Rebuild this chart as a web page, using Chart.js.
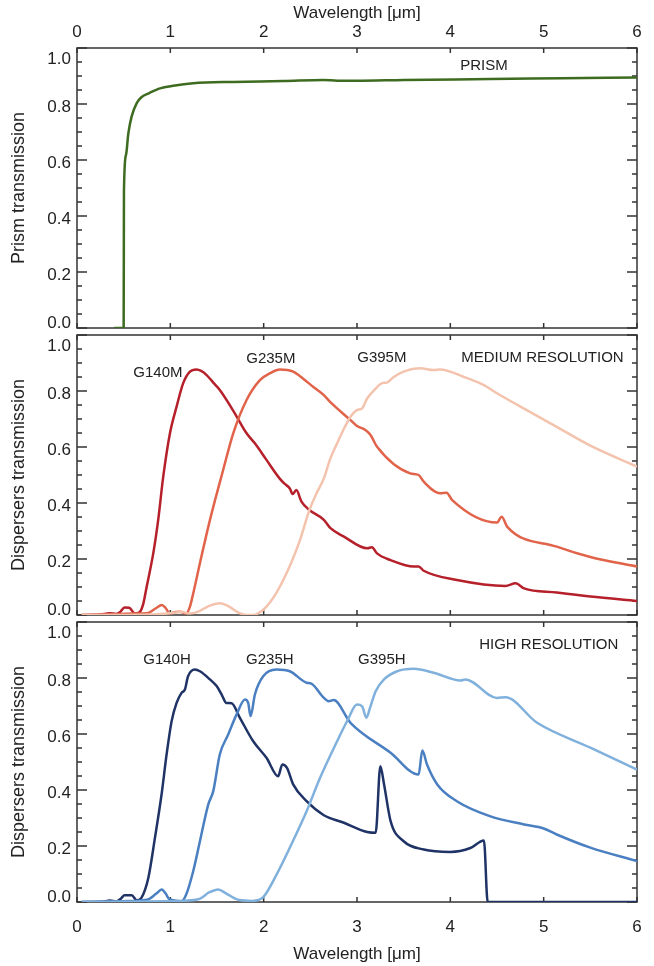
<!DOCTYPE html>
<html>
<head>
<meta charset="utf-8">
<script src="https://cdn.jsdelivr.net/npm/chart.js@4.4.1/dist/chart.umd.min.js"></script>
<style>
  html, body { margin: 0; padding: 0; background: #fff; }
  #wrap { position: relative; width: 654px; height: 966px; }
  canvas { position: absolute; left: 0; }
</style>
</head>
<body>
<div id="wrap">
  <canvas id="prismChart" width="654" height="332" style="top:0"></canvas>
  <canvas id="mediumChart" width="654" height="286" style="top:332px"></canvas>
  <canvas id="highChart" width="654" height="348" style="top:618px"></canvas>
</div>
<script>
// ticks
const xTicks = [0, 1, 2, 3, 4, 5, 6];
const yMinorTicks = [0, 0.05, 0.1, 0.15, 0.2, 0.25, 0.3, 0.35, 0.4, 0.45, 0.5,
  0.55, 0.6, 0.65, 0.7, 0.75, 0.8, 0.85, 0.9, 0.95, 1.0];

// PRISM
const prismWave = [0.40, 0.50, 0.503, 0.525, 0.55, 0.585, 0.64, 0.69, 0.78, 0.89, 1.03, 1.245,
  1.67, 2.21, 2.64, 2.79, 3.0, 3.5, 4.43, 5.2, 6.0];
const prismTrans = [0, 0, 0.487, 0.618, 0.695, 0.755, 0.803, 0.824, 0.84, 0.856, 0.865, 0.874,
  0.879, 0.882, 0.886, 0.883, 0.883, 0.886, 0.889, 0.892, 0.895];

// medium resolution gratings
const g140mWave = [0.05, 0.25, 0.35, 0.42, 0.46, 0.51, 0.56, 0.62, 0.67, 0.71, 0.746, 0.817,
  0.87, 0.924, 0.996, 1.067, 1.138, 1.21, 1.28, 1.33, 1.389, 1.46, 1.53, 1.67, 1.817, 1.906,
  2.03, 2.17, 2.22, 2.28, 2.31, 2.35, 2.405, 2.49, 2.645, 2.716, 2.86, 3.11, 3.16, 3.215,
  3.36, 3.61, 3.66, 3.715, 4.07, 4.59, 4.70, 4.79, 5.14, 5.5, 6.0];
const g140mTrans = [0, 0.002, 0.006, 0.004, 0.01, 0.027, 0.026, 0.005, 0.01, 0.04, 0.10, 0.22,
  0.34, 0.494, 0.649, 0.744, 0.828, 0.869, 0.877, 0.872, 0.857, 0.83, 0.804, 0.732, 0.649, 0.613,
  0.554, 0.488, 0.47, 0.452, 0.432, 0.446, 0.405, 0.375, 0.34, 0.31, 0.28, 0.238, 0.242, 0.22,
  0.196, 0.173, 0.173, 0.158, 0.125, 0.104, 0.113, 0.095, 0.08, 0.066, 0.05];

const g235mWave = [0.05, 0.4, 0.6, 0.75, 0.85, 0.907, 0.95, 0.99, 1.05, 1.10, 1.17, 1.21, 1.245,
  1.317, 1.424, 1.566, 1.674, 1.817, 1.96, 2.066, 2.173, 2.25, 2.316, 2.42, 2.53, 2.645, 2.709,
  2.93, 3.0, 3.09, 3.145, 3.215, 3.57, 3.66, 3.715, 3.89, 3.96, 4.02, 4.5, 4.55, 4.61, 5.14,
  5.5, 6.0];
const g235mTrans = [0, 0.003, 0.005, 0.006, 0.025, 0.036, 0.025, 0.006, 0.01, 0.012, 0.005, 0.03, 0.077,
  0.185, 0.339, 0.518, 0.649, 0.768, 0.839, 0.863, 0.877, 0.875, 0.869, 0.845, 0.815, 0.785, 0.762,
  0.696, 0.675, 0.661, 0.643, 0.601, 0.506, 0.5, 0.476, 0.435, 0.437, 0.41, 0.33, 0.351, 0.315, 0.244,
  0.207, 0.173];

const g395mWave = [0.05, 0.8, 1.05, 1.12, 1.2, 1.3, 1.4, 1.53, 1.63, 1.72, 1.817, 1.89, 1.96,
  2.03, 2.12, 2.21, 2.3, 2.39, 2.49, 2.56, 2.645, 2.709, 2.787, 2.86, 2.93, 3.0, 3.055, 3.11,
  3.19, 3.27, 3.32, 3.39, 3.5, 3.68, 3.82, 3.89, 4.14, 4.36, 4.5, 4.8, 5.14, 5.5, 6.0];
const g395mTrans = [0, 0.002, 0.008, 0.012, 0.005, 0.012, 0.03, 0.042, 0.03, 0.01, 0, 0, 0.01,
  0.03, 0.07, 0.125, 0.19, 0.268, 0.375, 0.43, 0.488, 0.554, 0.613, 0.665, 0.708, 0.732, 0.738, 0.774,
  0.805, 0.828, 0.83, 0.849, 0.869, 0.881, 0.875, 0.877, 0.851, 0.821, 0.792, 0.735, 0.672, 0.605, 0.53];

// high resolution gratings
const g140hWave = [0.05, 0.3, 0.35, 0.42, 0.47, 0.51, 0.586, 0.64, 0.69, 0.764, 0.835, 0.906,
  0.96, 1.014, 1.067, 1.12, 1.156, 1.19, 1.263, 1.317, 1.424, 1.496, 1.55, 1.60, 1.656, 1.745,
  1.888, 2.03, 2.155, 2.20, 2.25, 2.316, 2.46, 2.645, 2.86, 3.11, 3.2, 3.25, 3.29, 3.36, 3.5,
  3.715, 4.0, 4.215, 4.36, 4.40, 6.0];
const g140hTrans = [0, 0.002, 0.005, 0.002, 0.012, 0.024, 0.024, 0.006, 0.015, 0.086, 0.229, 0.384,
  0.527, 0.646, 0.711, 0.747, 0.759, 0.806, 0.83, 0.824, 0.795, 0.771, 0.741, 0.711, 0.71, 0.658,
  0.574, 0.515, 0.449, 0.491, 0.479, 0.42, 0.36, 0.31, 0.283, 0.25, 0.247, 0.485, 0.42, 0.289, 0.217,
  0.1875, 0.179, 0.193, 0.22, 0, 0];

const g235hWave = [0.05, 0.5, 0.75, 0.85, 0.907, 0.95, 0.99, 1.12, 1.17, 1.245, 1.317, 1.406,
  1.46, 1.53, 1.62, 1.71, 1.80, 1.834, 1.86, 1.906, 1.995, 2.138, 2.28, 2.46, 2.51, 2.645, 2.698,
  2.75, 2.93, 3.36, 3.66, 3.70, 3.75, 3.86, 4.07, 4.43, 4.79, 5.0, 5.14, 5.5, 6.0];
const g235hTrans = [0, 0.003, 0.008, 0.03, 0.045, 0.03, 0.01, 0.003, 0.027, 0.11, 0.217, 0.348,
  0.396, 0.527, 0.598, 0.67, 0.723, 0.711, 0.664, 0.741, 0.806, 0.83, 0.824, 0.783, 0.78, 0.729, 0.717,
  0.721, 0.64, 0.533, 0.455, 0.541, 0.491, 0.42, 0.36, 0.306, 0.277, 0.2625, 0.241, 0.194, 0.146];

const g395hWave = [0.05, 1.0, 1.3, 1.42, 1.513, 1.6, 1.74, 1.88, 1.995, 2.138, 2.28, 2.46, 2.6,
  2.787, 2.9, 3.0, 3.055, 3.10, 3.14, 3.20, 3.29, 3.43, 3.61, 3.82, 4.11, 4.16, 4.50, 4.59, 4.93,
  5.5, 6.0];
const g395hTrans = [0, 0.003, 0.01, 0.035, 0.045, 0.03, 0.007, 0.004, 0.017, 0.098, 0.194, 0.324, 0.44,
  0.574, 0.65, 0.705, 0.699, 0.658, 0.694, 0.753, 0.795, 0.824, 0.833, 0.819, 0.791, 0.795, 0.729, 0.731, 0.64,
  0.551, 0.473];

const AXIS_COLOR = "#333";
const TEXT_COLOR = "#222";
Chart.defaults.font.family = "'Liberation Sans', Arial, Helvetica, sans-serif";
Chart.defaults.color = TEXT_COLOR;

function series(xs, ys, color) {
  return {
    data: xs.map((x, i) => ({ x, y: ys[i] })),
    borderColor: color,
    borderWidth: 2.5,
    pointRadius: 0,
    fill: false,
    cubicInterpolationMode: "monotone"
  };
}

// frame box + inward ticks on all four sides
const frameTicks = {
  id: "frameTicks",
  beforeDatasetsDraw(chart) {
    const { ctx, chartArea: a, scales: { x, y } } = chart;
    ctx.save();
    ctx.strokeStyle = AXIS_COLOR;
    ctx.lineWidth = 1.5;
    ctx.strokeRect(a.left, a.top, a.right - a.left, a.bottom - a.top);
    ctx.beginPath();
    yMinorTicks.forEach((v, i) => {
      const py = y.getPixelForValue(v);
      const len = i % 4 === 0 ? 10 : 5;
      ctx.moveTo(a.left, py); ctx.lineTo(a.left + len, py);
      ctx.moveTo(a.right, py); ctx.lineTo(a.right - len, py);
    });
    xTicks.forEach(v => {
      const px = x.getPixelForValue(v);
      ctx.moveTo(px, a.top); ctx.lineTo(px, a.top + 5);
      ctx.moveTo(px, a.bottom); ctx.lineTo(px, a.bottom - 5);
    });
    ctx.stroke();
    ctx.restore();
  }
};

// text labels placed in data coordinates
const notes = {
  id: "notes",
  afterDatasetsDraw(chart, args, opts) {
    const { ctx, scales: { x, y } } = chart;
    ctx.save();
    ctx.fillStyle = TEXT_COLOR;
    ctx.font = "15px " + Chart.defaults.font.family;
    ctx.textBaseline = "middle";
    (opts.items || []).forEach(n => {
      ctx.textAlign = n.align || "center";
      ctx.fillText(n.text, x.getPixelForValue(n.x), y.getPixelForValue(n.y));
    });
    ctx.restore();
  }
};

function yAxis(title) {
  return {
    min: 0, max: 1,
    afterFit: s => { s.width = 77; s.paddingTop = 0; s.paddingBottom = 0; },
    grid: { display: false, drawTicks: false },
    border: { display: false },
    ticks: {
      stepSize: 0.2,
      padding: 6,
      labelOffset: 3,
      color: TEXT_COLOR,
      font: { size: 17, lineHeight: "8px" },
      callback: v => {
        const s = v.toFixed(1);
        if (s === "1.0") return ["", "", s];
        if (s === "0.0") return [s, "", ""];
        return s;
      }
    },
    title: { display: true, text: title, color: TEXT_COLOR, font: { size: 18 }, padding: { top: 8, bottom: 0 } }
  };
}

function xAxis(position, height, tickPad, titlePad) {
  return {
    type: "linear", min: 0, max: 6,
    position: position || "bottom",
    display: !!position,
    afterFit: s => { s.height = height; s.paddingLeft = 0; s.paddingRight = 0; },
    grid: { display: false, drawTicks: false },
    border: { display: false },
    ticks: { stepSize: 1, padding: tickPad, color: TEXT_COLOR, font: { size: 17 }, callback: v => v },
    title: { display: true, text: "Wavelength [μm]", color: TEXT_COLOR, font: { size: 17 }, padding: titlePad }
  };
}

function makeChart(id, datasets, xScale, yTitle, padding, items) {
  return new Chart(document.getElementById(id), {
    type: "line",
    data: { datasets },
    options: {
      responsive: false,
      animation: false,
      devicePixelRatio: 1,
      layout: { padding },
      scales: { x: xScale, y: yAxis(yTitle) },
      plugins: { legend: { display: false }, tooltip: { enabled: false }, notes: { items } }
    },
    plugins: [frameTicks, notes]
  });
}

makeChart("prismChart",
  [series(prismWave, prismTrans, "#3d6b1f")],
  xAxis("top", 48, 5, { top: 3, bottom: 0 }),
  "Prism transmission",
  { top: 0, bottom: 4, left: 0, right: 17 },
  [{ text: "PRISM", x: 4.36, y: 0.936 }]);

makeChart("mediumChart",
  [series(g395mWave, g395mTrans, "#f3c3ae"),
   series(g235mWave, g235mTrans, "#e1634a"),
   series(g140mWave, g140mTrans, "#b5202a")],
  xAxis(null, 0, 0, 0),
  "Dispersers transmission",
  { top: 3, bottom: 3, left: 0, right: 17 },
  [{ text: "G140M", x: 0.867, y: 0.864 },
   { text: "G235M", x: 2.077, y: 0.914 },
   { text: "G395M", x: 3.266, y: 0.918 },
   { text: "MEDIUM RESOLUTION", x: 5.857, y: 0.918, align: "right" }]);

makeChart("highChart",
  [series(g395hWave, g395hTrans, "#80b0dc"),
   series(g235hWave, g235hTrans, "#4a7fc1"),
   series(g140hWave, g140hTrans, "#1f3366")],
  xAxis("bottom", 64, 15, { top: 0, bottom: 1 }),
  "Dispersers transmission",
  { top: 4, bottom: 0, left: 0, right: 17 },
  [{ text: "G140H", x: 0.964, y: 0.866 },
   { text: "G235H", x: 2.066, y: 0.866 },
   { text: "G395H", x: 3.266, y: 0.866 },
   { text: "HIGH RESOLUTION", x: 5.80, y: 0.917, align: "right" }]);
</script>
</body>
</html>
